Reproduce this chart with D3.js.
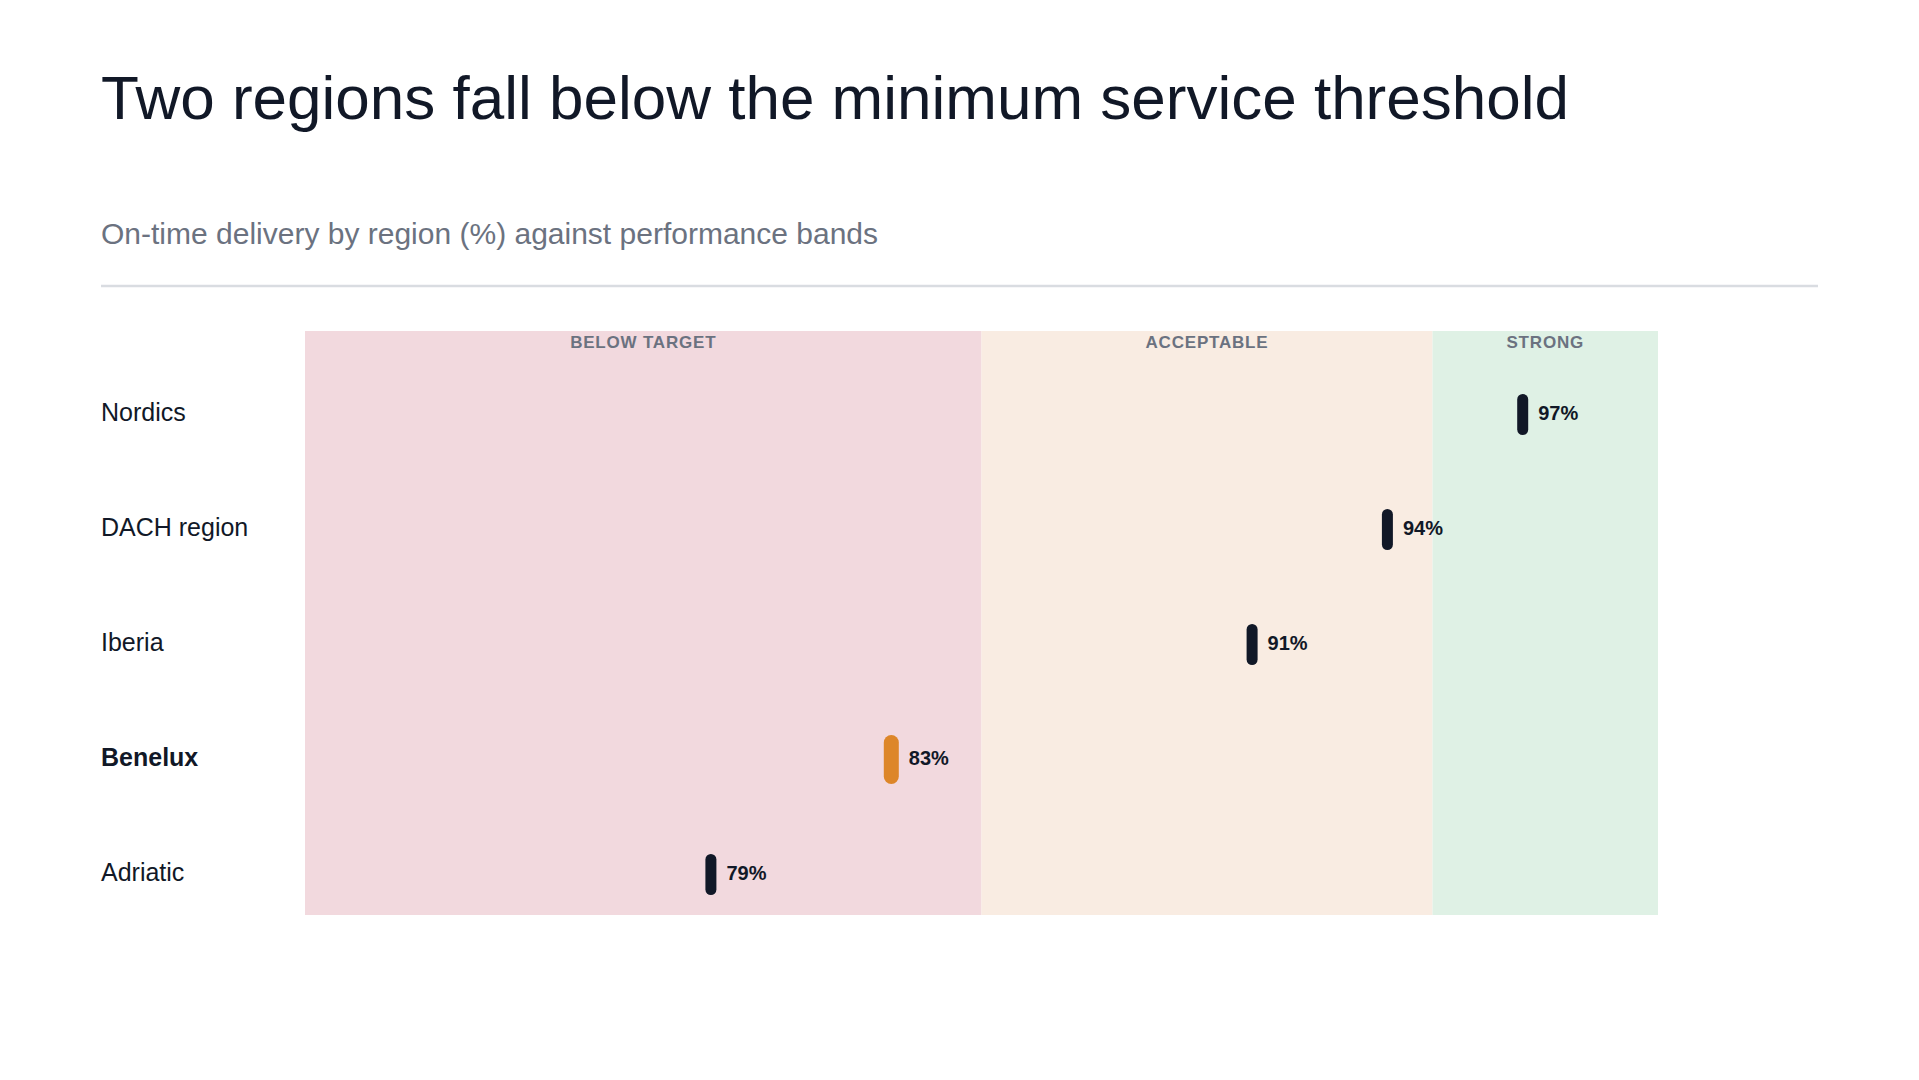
<!DOCTYPE html>
<html>
<head>
<meta charset="utf-8">
<script src="https://cdn.jsdelivr.net/npm/d3@7"></script>
<style>
  html, body { margin: 0; padding: 0; background: #fff; }
  svg { display: block; font-family: "Liberation Sans", Arial, sans-serif; }
</style>
</head>
<body>
<svg id="chart" width="1919" height="1080"></svg>
<script>
// data
const regions = ['Nordics', 'DACH region', 'Iberia', 'Benelux', 'Adriatic']
const onTime = [97, 94, 91, 83, 79]
const highlight = 'Benelux'

const bandNames = ['BELOW TARGET', 'ACCEPTABLE', 'STRONG']
const bandFrom = [70, 85, 95]
const bandTo = [85, 95, 100]
const bandColors = ['#f2d9de', '#f9ece2', '#dff1e5']

const title = 'Two regions fall below the minimum service threshold'
const subtitle = 'On-time delivery by region (%) against performance bands'

// layout
const left = 101
const plotLeft = 305, plotRight = 1658
const plotTop = 331, plotBottom = 915

const svg = d3.select('#chart')

svg.append('text')
  .attr('x', left)
  .attr('y', 119)
  .attr('font-size', 62)
  .attr('fill', '#111827')
  .text(title)

svg.append('text')
  .attr('x', left)
  .attr('y', 244)
  .attr('font-size', 30)
  .attr('fill', '#6b7280')
  .text(subtitle)

svg.append('line')
  .attr('x1', left)
  .attr('x2', 1818)
  .attr('y1', 286)
  .attr('y2', 286)
  .attr('stroke', '#d9dce1')
  .attr('stroke-width', 2.5)

const x = d3.scaleLinear()
  .domain([d3.min(bandFrom), d3.max(bandTo)])
  .range([plotLeft, plotRight])

const y = d3.scaleBand()
  .domain(regions)
  .range([357, 932])

const bands = bandNames.map((name, i) => ({ name, from: bandFrom[i], to: bandTo[i], color: bandColors[i] }))

const bandG = svg.append('g').attr('class', 'bands')

bandG.selectAll('rect')
  .data(bands)
  .join('rect')
  .attr('x', d => x(d.from))
  .attr('width', d => x(d.to) - x(d.from))
  .attr('y', plotTop)
  .attr('height', plotBottom - plotTop)
  .attr('fill', d => d.color)

bandG.selectAll('text')
  .data(bands)
  .join('text')
  .attr('x', d => (x(d.from) + x(d.to)) / 2)
  .attr('y', plotTop + 17)
  .attr('text-anchor', 'middle')
  .attr('font-size', 17)
  .attr('font-weight', 'bold')
  .attr('letter-spacing', 0.8)
  .attr('fill', '#6b7280')
  .text(d => d.name)

const rows = regions.map((r, i) => ({ region: r, value: onTime[i], hi: r === highlight }))

// region labels
svg.append('g')
  .selectAll('text')
  .data(rows)
  .join('text')
  .attr('x', left)
  .attr('y', d => y(d.region) + y.bandwidth() / 2)
  .attr('dominant-baseline', 'middle')
  .attr('font-size', 25)
  .attr('font-weight', d => d.hi ? 'bold' : 'normal')
  .attr('fill', '#111827')
  .text(d => d.region)

// markers
const markW = d => d.hi ? 15 : 11
const markH = d => d.hi ? 49 : 41

svg.append('g')
  .selectAll('rect')
  .data(rows)
  .join('rect')
  .attr('x', d => x(d.value) - markW(d) / 2)
  .attr('y', d => y(d.region) + y.bandwidth() / 2 - markH(d) / 2)
  .attr('width', markW)
  .attr('height', markH)
  .attr('rx', d => markW(d) / 2)
  .attr('fill', d => d.hi ? '#dd8629' : '#111827')

svg.append('g')
  .selectAll('text')
  .data(rows)
  .join('text')
  .attr('x', d => x(d.value) + markW(d) / 2 + 10)
  .attr('y', d => y(d.region) + y.bandwidth() / 2)
  .attr('dominant-baseline', 'middle')
  .attr('font-size', 20)
  .attr('font-weight', 'bold')
  .attr('fill', '#111827')
  .text(d => d.value + '%')
</script>
</body>
</html>
